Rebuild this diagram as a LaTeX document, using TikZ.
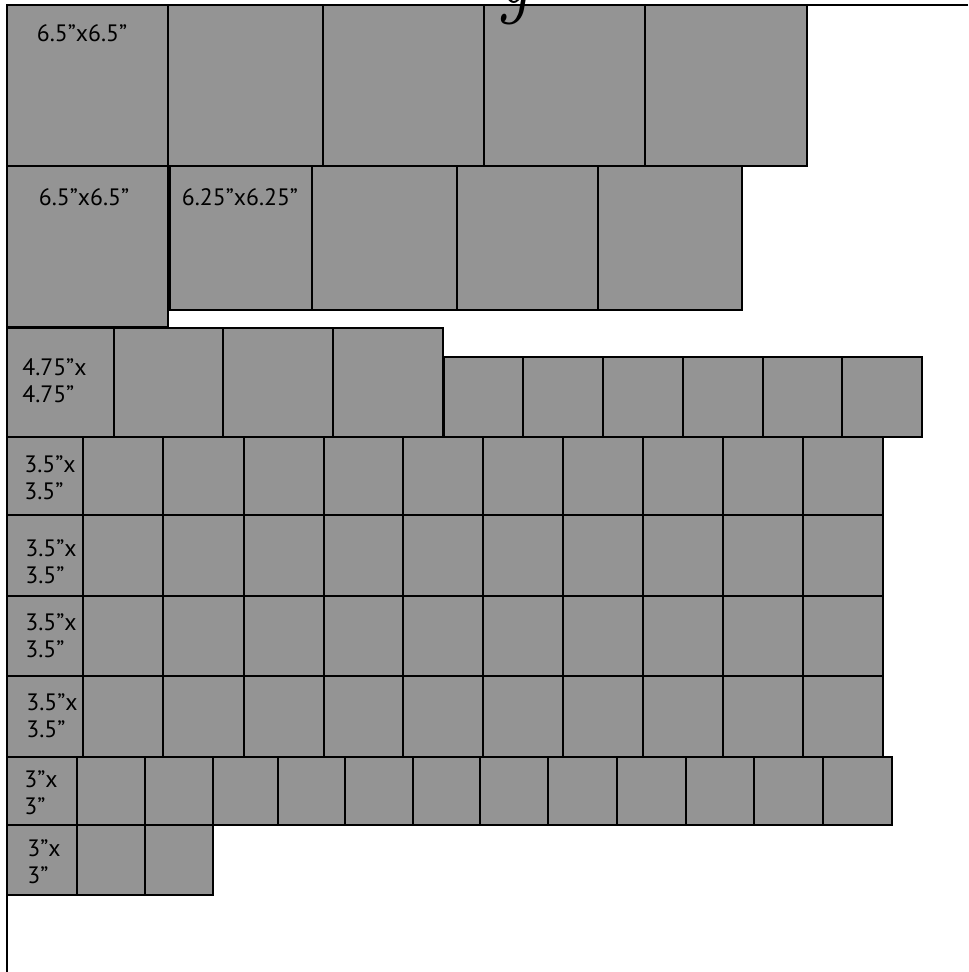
\documentclass[tikz,border=0pt]{standalone}
\usepackage{fontspec}
\setmainfont{PT Sans}
\newfontfamily\titlefont{Latin Modern Roman}
\usepackage{tikz}
\definecolor{tile-gray}{RGB}{148,148,148}

\begin{document}
\begin{tikzpicture}[x=0.02cm, y=-0.02cm,
    tile/.style={draw=black, fill=tile-gray, line width=1.6pt},
    size/.style={font=\fontsize{13.5}{15.5}\selectfont, inner sep=0pt, align=left}]
    \useasboundingbox (0,0) rectangle (968,972);

    % page edge
    \draw[line width=1.6pt] (968,5) -- (7,5) -- (7,972);

    % 6.5 x 6.5
    \foreach \a/\b in {7/168,168/323,323/484,484/645,645/807}
        \draw[tile] (\a,5) rectangle (\b,166);
    \draw[tile] (7,166) rectangle (168,327);
    % 6.25 x 6.25
    \foreach \a/\b in {170/312,312/457,457/598,598/742}
        \draw[tile] (\a,166) rectangle (\b,310);
    % 4.75 x 4.75
    \foreach \a/\b in {7/114,114/223,223/333,333/443}
        \draw[tile] (\a,328) rectangle (\b,437);
    \foreach \a/\b in {444/523,523/603,603/683,683/763,763/842,842/922}
        \draw[tile] (\a,357) rectangle (\b,437);
    % 3.5 x 3.5
    \foreach \t/\u in {437/515,515/596,596/676,676/757}
        \foreach \a/\b in {7/83,83/163,163/244,244/324,324/403,403/483,483/563,563/643,643/723,723/803,803/883}
            \draw[tile] (\a,\t) rectangle (\b,\u);
    % 3 x 3
    \foreach \a/\b in {7/77,77/145,145/213,213/278,278/345,345/413,413/480,480/548,548/617,617/686,686/754,754/823,823/892}
        \draw[tile] (\a,757) rectangle (\b,825);
    \foreach \a/\b in {7/77,77/145,145/213}
        \draw[tile] (\a,825) rectangle (\b,895);

    \node[font=\fontsize{60}{60}\selectfont\titlefont\itshape, anchor=base, inner sep=0pt] (cut) at (514,4) {\scalebox{0.7}[1]{g}};

    \node[size] (big-a) at (82,33) {6.5”x6.5”};
    \node[size] (big-b) at (84,197) {6.5”x6.5”};
    \node[size] (mid) at (240,197) {6.25”x6.25”};
    \node[size, anchor=west] (four) at (22,381) {4.75”x\\4.75”};
    \node[size, anchor=west] (three-a) at (24,478) {3.5”x\\3.5”};
    \node[size, anchor=west] (three-b) at (25,562) {3.5”x\\3.5”};
    \node[size, anchor=west] (three-c) at (25,636) {3.5”x\\3.5”};
    \node[size, anchor=west] (three-d) at (26,716) {3.5”x\\3.5”};
    \node[size, anchor=west] (small-a) at (24,793) {3”x\\3”};
    \node[size, anchor=west] (small-b) at (27,862) {3”x\\3”};
\end{tikzpicture}
\end{document}
